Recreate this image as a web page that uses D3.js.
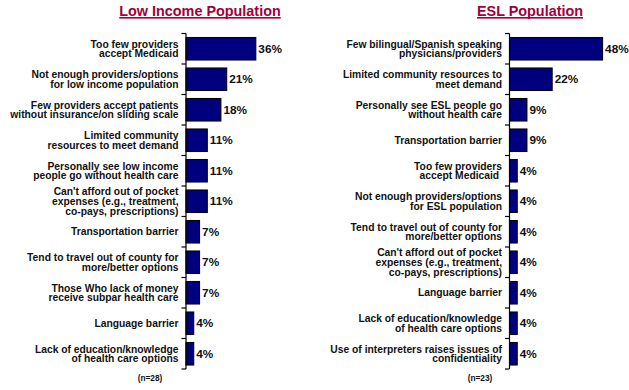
<!DOCTYPE html>
<html>
<head>
<meta charset="utf-8">
<script src="https://cdn.jsdelivr.net/npm/d3@7"></script>
<style>
  html, body { margin: 0; padding: 0; background: #ffffff; }
  svg { display: block; }
  text { font-family: Arial, "Liberation Sans", sans-serif; font-weight: bold; }
</style>
</head>
<body>
<svg id="chart" width="629" height="390"></svg>
<script>
// ---- Data ----
const lowIncomeCategories = [
  "Too few providers|accept Medicaid",
  "Not enough providers/options|for low income population",
  "Few providers accept patients|without insurance/on sliding scale",
  "Limited community|resources to meet demand",
  "Personally see low income|people go without health care",
  "Can't afford out of pocket|expenses (e.g., treatment,|co-pays, prescriptions)",
  "Transportation barrier",
  "Tend to travel out of county for|more/better options",
  "Those Who lack of money|receive subpar health care",
  "Language barrier",
  "Lack of education/knowledge|of health care options"
];
const lowIncomeValues = [36, 21, 18, 11, 11, 11, 7, 7, 7, 4, 4];

const eslCategories = [
  "Few bilingual/Spanish speaking|physicians/providers",
  "Limited community resources to|meet demand",
  "Personally see ESL people go|without health care",
  "Transportation barrier",
  "Too few providers|accept Medicaid ",
  "Not enough providers/options|for ESL population",
  "Tend to travel out of county for|more/better options",
  "Can't afford out of pocket|expenses (e.g., treatment,|co-pays, prescriptions)",
  "Language barrier",
  "Lack of education/knowledge|of health care options",
  "Use of interpreters raises issues of|confidentiality"
];
const eslValues = [48, 22, 9, 9, 4, 4, 4, 4, 4, 4, 4];

const panelTitles = ["Low Income Population", "ESL Population"];
const sampleSizes = ["(n=28)", "(n=23)"];

// ---- Layout ----
const svg = d3.select("#chart");
const panels = [
  { cats: lowIncomeCategories, vals: lowIncomeValues, axisX: 186, titleX: 200, nX: 150 },
  { cats: eslCategories, vals: eslValues, axisX: 509.5, titleX: 530, nX: 480 }
];

const titleColor = "#A0003C";
const barColor = "#00007F";

panels.forEach((p, pi) => {
  const g = svg.append("g");
  const y = d3.scaleBand()
    .domain(d3.range(p.cats.length))
    .range([33.5, 369])
    .paddingInner(0.26)
    .paddingOuter(0.13);
  const x = d3.scaleLinear().domain([0, 100]).range([p.axisX, p.axisX + 194]);

  // Title
  const t = g.append("text")
    .attr("x", p.titleX)
    .attr("y", 15.5)
    .attr("text-anchor", "middle")
    .attr("font-size", "14.4px")
    .attr("fill", titleColor)
    .text(panelTitles[pi]);
  const bb = t.node().getBBox();
  g.append("rect")
    .attr("x", bb.x)
    .attr("y", 17)
    .attr("width", bb.width)
    .attr("height", 1.6)
    .attr("fill", titleColor);

  // Bars
  g.selectAll("rect.bar")
    .data(p.vals)
    .join("rect")
    .attr("class", "bar")
    .attr("x", x(0))
    .attr("y", (d, i) => y(i))
    .attr("width", d => x(d) - x(0))
    .attr("height", y.bandwidth())
    .attr("fill", barColor)
    .attr("stroke", "#000")
    .attr("stroke-width", 1);

  // Value labels
  g.selectAll("text.val")
    .data(p.vals)
    .join("text")
    .attr("class", "val")
    .attr("x", d => x(d) + 2.5)
    .attr("y", (d, i) => y(i) + y.bandwidth() / 2)
    .attr("dy", "0.36em")
    .attr("font-size", "11.8px")
    .attr("fill", "#111")
    .text(d => d + "%");

  // Axis line and ticks
  const step = y.step();
  const top = y.range()[0];
  const bottom = y.range()[1];
  g.append("line")
    .attr("x1", p.axisX).attr("x2", p.axisX)
    .attr("y1", top).attr("y2", bottom)
    .attr("stroke", "#000").attr("stroke-width", 1.2);
  g.selectAll("line.tick")
    .data(d3.range(p.cats.length + 1))
    .join("line")
    .attr("class", "tick")
    .attr("x1", p.axisX - 4.5).attr("x2", p.axisX)
    .attr("y1", i => top + i * step).attr("y2", i => top + i * step)
    .attr("stroke", "#000").attr("stroke-width", 1.2);

  // Category labels
  const lineH = 9.6;
  p.cats.forEach((c, i) => {
    const lines = c.split("|");
    const cy = y(i) + y.bandwidth() / 2;
    const txt = g.append("text")
      .attr("text-anchor", "end")
      .attr("font-size", "10.3px")
      .attr("fill", "#111")
      .attr("xml:space", "preserve");
    lines.forEach((ln, li) => {
      txt.append("tspan")
        .attr("x", p.axisX - 7.5)
        .attr("y", cy + (li - (lines.length - 1) / 2) * lineH)
        .attr("dy", "0.36em")
        .text(ln);
    });
  });

  // Sample size
  g.append("text")
    .attr("x", p.nX)
    .attr("y", 381)
    .attr("text-anchor", "middle")
    .attr("font-size", "8.3px")
    .attr("fill", "#111")
    .text(sampleSizes[pi]);
});
</script>
</body>
</html>
